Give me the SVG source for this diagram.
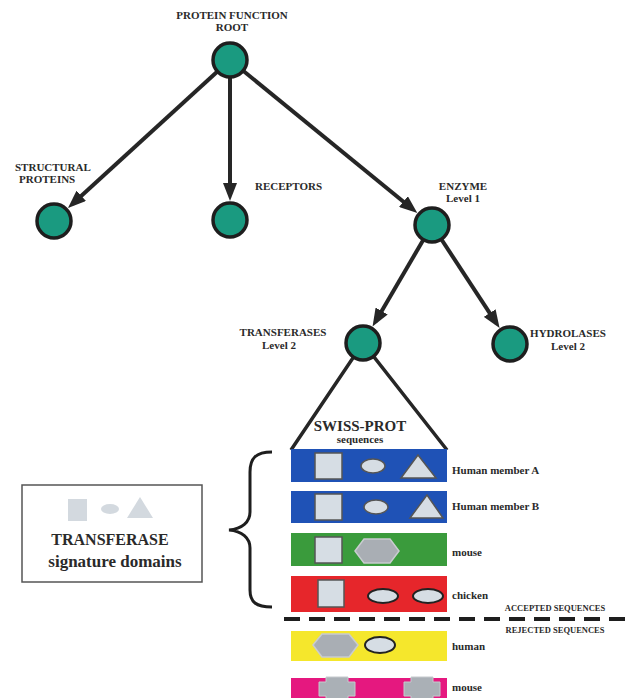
<svg xmlns="http://www.w3.org/2000/svg" width="628" height="698" viewBox="0 0 628 698">
<defs>
<style>
.node{fill:#1a9a80;stroke:#1e1e1e;stroke-width:3.5}
.edge{stroke:#262626;stroke-width:4;fill:none}
.lbl{font-family:"Liberation Serif","Times New Roman",serif;font-weight:bold;fill:#2a2a2a}
.nl{font-size:11px}
.sl{font-size:11px}
.shape{fill:#d6dde4;stroke:#555;stroke-width:1.5}
.hex{fill:#a9aeb4;stroke:#c9ccd0;stroke-width:1.5}
.oval{fill:#d6dde4;stroke:#222;stroke-width:2}
</style>
<marker id="ah" markerUnits="userSpaceOnUse" markerWidth="18" markerHeight="14" refX="12" refY="7" orient="auto">
<path d="M0,0 L18,7 L0,14 z" fill="#262626"/>
</marker>
<polygon id="cross" points="-11,-12 11,-12 11,-7 18,-7 18,7 11,7 11,12 -11,12 -11,7 -18,7 -18,-7 -11,-7"/>
</defs>
<rect width="628" height="698" fill="#fff"/>

<g id="connectors">
<line class="edge" x1="230" y1="60" x2="72.4" y2="203.9" marker-end="url(#ah)"/>
<line class="edge" x1="230" y1="60" x2="230" y2="195" marker-end="url(#ah)"/>
<line class="edge" x1="230" y1="60" x2="412.7" y2="209.2" marker-end="url(#ah)"/>
<line class="edge" x1="432" y1="225" x2="375.6" y2="321.4" marker-end="url(#ah)"/>
<line class="edge" x1="432" y1="225" x2="496.3" y2="323.1" marker-end="url(#ah)"/>
<path class="edge" style="stroke-width:3.5" d="M291,450 L363,343 L447,450"/>
</g>

<g id="root">
<circle class="node" cx="230" cy="60" r="17"/>
<text class="lbl nl" x="232" y="19" text-anchor="middle">PROTEIN FUNCTION</text>
<text class="lbl nl" x="232" y="31" text-anchor="middle">ROOT</text>
</g>
<g id="structural">
<circle class="node" cx="54" cy="221" r="17"/>
<text class="lbl nl" x="15" y="171">STRUCTURAL</text>
<text class="lbl nl" x="19" y="183">PROTEINS</text>
</g>
<g id="receptors">
<circle class="node" cx="230" cy="220" r="17"/>
<text class="lbl nl" x="255" y="190">RECEPTORS</text>
</g>
<g id="enzyme">
<circle class="node" cx="432" cy="225" r="17"/>
<text class="lbl nl" x="463" y="190" text-anchor="middle">ENZYME</text>
<text class="lbl nl" x="463" y="202" text-anchor="middle">Level 1</text>
</g>
<g id="transferases">
<circle class="node" cx="363" cy="343" r="17"/>
<text class="lbl nl" x="283" y="336" text-anchor="middle">TRANSFERASES</text>
<text class="lbl nl" x="279" y="349" text-anchor="middle">Level 2</text>
</g>
<g id="hydrolases">
<circle class="node" cx="510" cy="344" r="17"/>
<text class="lbl nl" x="568" y="337" text-anchor="middle">HYDROLASES</text>
<text class="lbl nl" x="568" y="350" text-anchor="middle">Level 2</text>
</g>

<g id="swissprot">
<text class="lbl" x="360" y="431" text-anchor="middle" font-size="15">SWISS-PROT</text>
<text class="lbl" x="360" y="443" text-anchor="middle" font-size="11">sequences</text>
</g>

<g id="humanA">
<rect x="291" y="449" width="156" height="33" fill="#1f52b6"/>
<rect class="shape" x="315" y="453" width="27" height="26"/>
<ellipse class="shape" cx="373" cy="466" rx="12" ry="7"/>
<polygon class="shape" points="401,478 418,455 436,478"/>
<text class="lbl sl" x="452" y="474">Human member A</text>
</g>
<g id="humanB">
<rect x="291" y="491" width="156" height="32" fill="#1f52b6"/>
<rect class="shape" x="315" y="494" width="27" height="26"/>
<ellipse class="shape" cx="376" cy="507" rx="12" ry="7"/>
<polygon class="shape" points="410,518 427,495 443,518"/>
<text class="lbl sl" x="452" y="510">Human member B</text>
</g>
<g id="mouseA">
<rect x="291" y="533" width="156" height="33" fill="#3a9b3c"/>
<rect class="shape" x="315" y="537" width="27" height="26"/>
<polygon class="hex" points="355,551 364,539 390,539 399,551 390,563 364,563"/>
<text class="lbl sl" x="452" y="556">mouse</text>
</g>
<g id="chicken">
<rect x="291" y="576" width="156" height="36" fill="#e6262b"/>
<rect class="shape" x="318" y="580" width="26" height="27"/>
<ellipse class="oval" cx="383" cy="596" rx="15" ry="7"/>
<ellipse class="oval" cx="428" cy="596" rx="15" ry="7"/>
<text class="lbl sl" x="452" y="599">chicken</text>
</g>

<g id="divider">
<line x1="284" y1="619" x2="628" y2="619" stroke="#1e1e1e" stroke-width="4" stroke-dasharray="16 9"/>
<text class="lbl" x="555" y="611" text-anchor="middle" font-size="8.5">ACCEPTED SEQUENCES</text>
<text class="lbl" x="555" y="633" text-anchor="middle" font-size="8.5">REJECTED SEQUENCES</text>
</g>

<g id="humanR">
<rect x="291" y="631" width="156" height="30" fill="#f5e72c"/>
<polygon class="hex" points="313,645 322,634 349,634 358,645 349,657 322,657"/>
<ellipse class="oval" cx="380" cy="645" rx="15" ry="8"/>
<text class="lbl sl" x="452" y="650">human</text>
</g>
<g id="mouseR">
<rect x="291" y="678" width="156" height="20" fill="#e5187f"/>
<use href="#cross" x="337" y="689" fill="#aab0b6" stroke="#c5c9cd" stroke-width="1"/>
<use href="#cross" x="422" y="689" fill="#aab0b6" stroke="#c5c9cd" stroke-width="1"/>
<text class="lbl sl" x="452" y="691">mouse</text>
</g>

<g id="brace">
<path d="M272,452 C256,452 250,458 250,472 L250,512 C250,522 242,529 229,530 C242,531 250,538 250,548 L250,590 C250,602 256,607 272,607" fill="none" stroke="#1e1e1e" stroke-width="3"/>
</g>

<g id="legend">
<rect x="22" y="485" width="180" height="97" fill="#fff" stroke="#555" stroke-width="1.5"/>
<rect x="68" y="499" width="19" height="22" fill="#d3d9df"/>
<ellipse cx="110" cy="509" rx="9" ry="5" fill="#d3d9df"/>
<polygon points="127,518 140,497 153,518" fill="#d3d9df"/>
<text class="lbl" x="110" y="545" text-anchor="middle" font-size="16" fill="#333">TRANSFERASE</text>
<text class="lbl" x="115" y="567" text-anchor="middle" font-size="17" fill="#333">signature domains</text>
</g>
</svg>
